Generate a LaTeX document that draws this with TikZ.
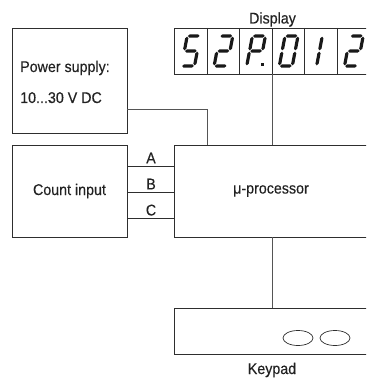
\documentclass[tikz,border=0pt]{standalone}
\usepackage{fontspec}
\setmainfont[FakeStretch=0.92,FakeBold=0.35]{Liberation Sans}
\usetikzlibrary{shapes.geometric}
\definecolor{boxc}{HTML}{2E2E2E}
\definecolor{wirec}{HTML}{555555}
\definecolor{txtc}{HTML}{222222}
\tikzset{
  seg-a/.style={insert path={(0.7,30)--(2.3,31.6)--(10.7,31.6)--(12.3,30)--(10.7,28.4)--(2.3,28.4)--cycle}},
  seg-g/.style={insert path={(0.7,15)--(2.3,16.6)--(10.7,16.6)--(12.3,15)--(10.7,13.4)--(2.3,13.4)--cycle}},
  seg-d/.style={insert path={(0.7,0)--(2.3,1.6)--(10.7,1.6)--(12.3,0)--(10.7,-1.6)--(2.3,-1.6)--cycle}},
  seg-b/.style={insert path={(13,15.7)--(14.6,17.3)--(14.6,27.7)--(13,29.3)--(11.4,27.7)--(11.4,17.3)--cycle}},
  seg-c/.style={insert path={(13,0.7)--(14.6,2.3)--(14.6,12.7)--(13,14.3)--(11.4,12.7)--(11.4,2.3)--cycle}},
  seg-e/.style={insert path={(0,0.7)--(1.6,2.3)--(1.6,12.7)--(0,14.3)--(-1.6,12.7)--(-1.6,2.3)--cycle}},
  seg-f/.style={insert path={(0,15.7)--(1.6,17.3)--(1.6,27.7)--(0,29.3)--(-1.6,27.7)--(-1.6,17.3)--cycle}},
}
\newcommand\sevseg[3]{%
  \begin{scope}[shift={(#1,#2)},x=1pt,y=1pt,xslant=0.19]
    \foreach \s in {#3}{\edef\tmp{\noexpand\fill[segline,seg-\s];}\tmp}
  \end{scope}}
\begin{document}
\begin{tikzpicture}[x=1pt,y=-1pt,
  box/.style={draw=boxc, line width=0.9pt, inner sep=0pt, outer sep=0pt,
    font=\fontsize{15.5}{18}\selectfont, text=txtc},
  boxline/.style={draw=boxc, line width=0.9pt},
  wire/.style={draw=wirec, line width=0.9pt},
  txt/.style={font=\fontsize{15.5}{18}\selectfont, text=txtc, inner sep=0pt, anchor=base},
  segline/.style={fill=black!90},
  key/.style={draw=boxc, ellipse, line width=0.7pt, minimum width=30pt, minimum height=15pt, inner sep=0pt}]
\path[use as bounding box] (0,0) rectangle (366,379);
\clip (0,0) rectangle (366,379);

% boxes
\node[box, minimum width=115pt, minimum height=105pt] (power) at (69.5,80.5) {};
\node[txt, anchor=base west] (pst1) at (20,72) {Power supply:};
\node[txt, anchor=base west] (pst2) at (20,103) {10...30 V DC};
\node[box, minimum width=115pt, minimum height=92pt] (count) at (69.5,191) {Count input};
\node[box, minimum width=194pt, minimum height=92pt] (proc) at (271,191) {μ-processor};
\node[box, minimum width=196pt, minimum height=46pt] (keypad) at (272,331) {};
\node[key] (k1) at (298,338) {};
\node[key] (k2) at (335,338) {};
\node[txt] (keylbl) at (272,374) {Keypad};

% display
\node[box, minimum width=196pt, minimum height=46pt] (display) at (272,51) {};
\node[txt] (displbl) at (272.5,23.5) {Display};
\foreach \x in {207,239.6,272.2,304.6,337.2}
  \draw[boxline] (\x,0 |- display.north) -- (\x,0 |- display.south);
\sevseg{181.5}{66}{a,f,g,c,d}
\sevseg{214.1}{66}{a,b,g,e,d}
\sevseg{246.7}{66}{a,b,f,g,e}
\fill[black!90] (261.4,62.6) rectangle (264.4,65.8);
\sevseg{279.3}{66}{a,b,c,d,e,f}
\sevseg{303.6}{66}{b,c}
\sevseg{344.5}{66}{a,b,g,e,d}

% connectors
\coordinate (ptap) at (207,109);
\draw[wire] (power.east |- ptap) -- (ptap) -- (ptap |- proc.north);
\draw[wire] (display.south) -- (display.south |- proc.north);
\draw[wire] (proc.south -| keypad.north) -- (keypad.north);
\foreach \n/\y in {A/166,B/192,C/218}{
  \draw[boxline] (count.east |- 0,\y) -- (proc.west |- 0,\y);
  \node[txt] (l\n) at (151,\y-2.6) {\n};
}
\end{tikzpicture}
\end{document}
